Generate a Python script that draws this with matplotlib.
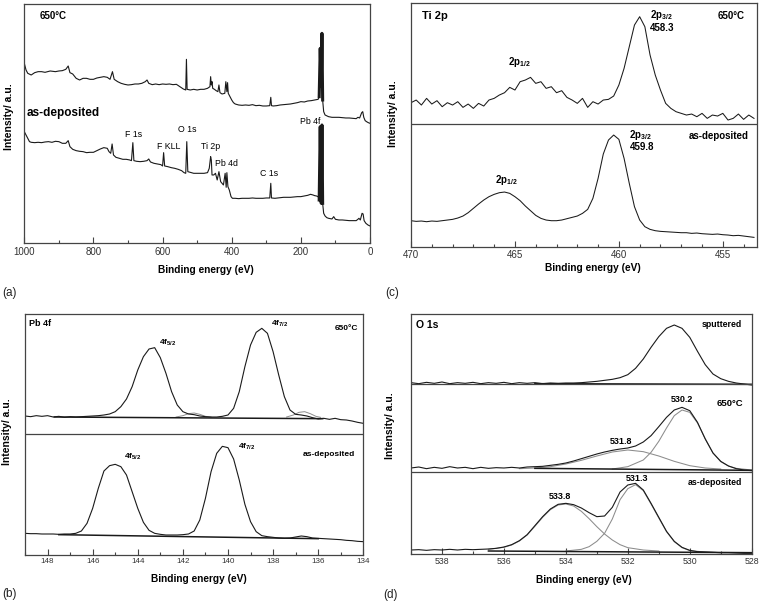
import matplotlib
matplotlib.use("Agg")
import matplotlib.pyplot as plt
from matplotlib.ticker import MultipleLocator

plt.rcParams['font.family'] = ['Liberation Sans', 'DejaVu Sans']
plt.rcParams['mathtext.fontset'] = 'custom'
plt.rcParams['mathtext.rm'] = 'Liberation Sans'
plt.rcParams['mathtext.bf'] = 'Liberation Sans:bold'
plt.rcParams['mathtext.it'] = 'Liberation Sans:italic'

# ---------------- (a) survey spectra ----------------
a_top_ev = [1000, 995, 990, 980, 970, 960, 950, 940, 925, 910,
            900, 890, 880, 873, 868, 860, 850, 840, 830, 820,
            810, 800, 790, 780, 770, 760, 752, 745, 740, 730,
            720, 710, 700, 690, 680, 670, 660, 650, 645, 640,
            630, 620, 610, 600, 590, 580, 570, 560, 550, 540,
            533, 531, 529, 520, 510, 500, 490, 480, 470, 463,
            461, 459, 457, 455, 450, 445, 440, 437, 434, 428,
            420, 417, 414, 412, 410, 405, 400, 395, 390, 380,
            370, 360, 350, 340, 330, 320, 310, 300, 290, 287,
            285, 280, 270, 260, 250, 240, 230, 220, 210, 200,
            190, 180, 170, 160, 150, 147, 144, 141, 139, 137,
            134, 130, 120, 110, 100, 90, 80, 70, 60, 50,
            40, 35, 30, 24, 21, 18, 14, 10, 5, 0]
a_top = [540, 520, 510, 505, 512, 515, 515, 513, 517, 515,
         517, 518, 522, 532, 512, 508, 495, 490, 495, 495,
         492, 492, 496, 498, 500, 498, 492, 515, 492, 485,
         480, 477, 475, 476, 478, 478, 480, 485, 490, 480,
         476, 478, 476, 478, 477, 478, 476, 477, 470, 463,
         460, 552, 462, 460, 462, 460, 462, 462, 465, 470,
         500, 475, 485, 465, 462, 458, 455, 475, 452, 448,
         450, 485, 455, 482, 450, 440, 430, 422, 418, 415,
         414, 415, 414, 416, 413, 414, 412, 412, 413, 438,
         413, 412, 413, 415, 416, 417, 418, 420, 422, 425,
         424, 427, 428, 430, 432, 440, 585, 470, 630, 430,
         395, 385, 380, 378, 378, 378, 377, 376, 376, 375,
         374, 378, 376, 392, 395, 378, 368, 365, 362, 360]

a_bot_ev = [1000, 995, 990, 985, 980, 970, 960, 950, 940, 930,
            920, 910, 900, 890, 880, 873, 868, 860, 850, 840,
            830, 820, 810, 800, 790, 780, 770, 760, 755, 750,
            746, 742, 735, 725, 715, 705, 695, 690, 686, 683,
            675, 665, 655, 645, 640, 635, 625, 615, 605, 600,
            597, 594, 585, 575, 565, 555, 545, 538, 533, 530,
            527, 520, 510, 500, 490, 480, 470, 465, 461, 459,
            457, 452, 447, 442, 437, 432, 428, 424, 419, 416,
            414, 411, 407, 402, 398, 390, 380, 370, 360, 350,
            340, 330, 320, 310, 300, 290, 287, 285, 275, 260,
            250, 240, 230, 220, 210, 200, 190, 180, 172, 165,
            160, 155, 150, 147, 144, 141, 139, 137, 134, 130,
            125, 120, 110, 105, 100, 90, 80, 70, 60, 50,
            40, 35, 32, 28, 23, 20, 17, 12, 6, 0]
a_bot = [335, 325, 315, 305, 303, 302, 303, 302, 304, 305,
         303, 306, 305, 300, 300, 308, 290, 282, 278, 276,
         275, 272, 273, 273, 278, 283, 287, 285, 275, 270,
         298, 265, 258, 255, 252, 252, 250, 248, 302, 248,
         246, 245, 246, 248, 253, 244, 240, 238, 236, 232,
         272, 232, 230, 227, 225, 222, 218, 212, 210, 305,
         215, 213, 210, 210, 210, 210, 212, 225, 260, 250,
         205, 205, 210, 190, 215, 185, 180, 175, 210, 168,
         212, 170, 160, 140, 135, 135, 134, 135, 135, 135,
         136, 135, 135, 135, 136, 136, 180, 136, 135, 137,
         138, 138, 138, 139, 140, 140, 142, 144, 147, 145,
         143, 142, 140, 130, 350, 120, 355, 120, 90, 82,
         77, 75, 73, 80, 72, 70, 70, 69, 68, 68,
         68, 72, 75, 70, 90, 88, 68, 60, 55, 52]

# ---------------- (c) Ti 2p ----------------
c_ev = [470.0, 469.75, 469.5, 469.25, 469.0, 468.75, 468.5, 468.25, 468.0, 467.75,
        467.5, 467.25, 467.0, 466.75, 466.5, 466.25, 466.0, 465.75, 465.5, 465.25,
        465.0, 464.75, 464.5, 464.25, 464.0, 463.75, 463.5, 463.25, 463.0, 462.75,
        462.5, 462.25, 462.0, 461.75, 461.5, 461.25, 461.0, 460.75, 460.5, 460.25,
        460.0, 459.75, 459.5, 459.25, 459.0, 458.75, 458.5, 458.25, 458.0, 457.75,
        457.5, 457.25, 457.0, 456.75, 456.5, 456.25, 456.0, 455.75, 455.5, 455.25,
        455.0, 454.75, 454.5, 454.25, 454.0, 453.75, 453.5]
c_top = [432, 440, 425, 445, 428, 438, 420, 432, 425, 435,
         418, 428, 415, 430, 422, 440, 445, 455, 462, 478,
         470, 495, 500, 508, 490, 495, 475, 480, 462, 468,
         448, 440, 430, 445, 418, 435, 428, 440, 442, 452,
         485, 535, 600, 665, 690, 660, 575, 515, 470, 430,
         415, 405, 400, 395, 398, 390, 400, 385, 395, 392,
         400, 380, 385, 398, 382, 395, 385]
c_bot = [78, 76, 77, 75, 77, 76, 78, 80, 82, 86,
         92, 102, 115, 128, 140, 150, 157, 162, 164, 160,
         150, 138, 122, 108, 94, 85, 80, 78, 78, 80,
         84, 88, 92, 100, 112, 145, 205, 278, 320, 335,
         322, 265, 190, 120, 80, 60, 52, 48, 46, 45,
         44, 43, 42, 42, 40, 41, 39, 38, 37, 38,
         36, 35, 33, 34, 32, 30, 28]

# ---------------- (b) Pb 4f ----------------
b_ev = [149.0, 148.75, 148.5, 148.25, 148.0, 147.75, 147.5, 147.25, 147.0, 146.75,
        146.5, 146.25, 146.0, 145.75, 145.5, 145.25, 145.0, 144.75, 144.5, 144.25,
        144.0, 143.75, 143.5, 143.25, 143.0, 142.75, 142.5, 142.25, 142.0, 141.75,
        141.5, 141.25, 141.0, 140.75, 140.5, 140.25, 140.0, 139.75, 139.5, 139.25,
        139.0, 138.75, 138.5, 138.25, 138.0, 137.75, 137.5, 137.25, 137.0, 136.75,
        136.5, 136.25, 136.0, 135.75, 135.5, 135.25, 135.0, 134.75, 134.5, 134.25,
        134.0]
b_top = [417, 415, 418, 416, 418, 414, 416, 413, 415, 414,
         415, 416, 417, 418, 420, 423, 430, 445, 468, 505,
         555, 595, 618, 622, 592, 545, 490, 450, 430, 423,
         421, 417, 415, 414, 414, 416, 420, 440, 490, 565,
         630, 668, 680, 665, 610, 540, 475, 435, 422, 420,
         417, 412, 408, 410, 407, 410, 406, 405, 402, 398,
         395]
b_bot = [65, 64, 64, 63, 63, 63, 62, 63, 63, 65,
         72, 95, 140, 200, 252, 268, 272, 265, 240, 190,
         140, 98, 74, 65, 62, 60, 60, 60, 61, 63,
         72, 105, 170, 250, 305, 326, 322, 288, 225, 152,
         100, 70, 58, 55, 53, 51, 50, 51, 54, 57,
         55, 51, 50, 49, 48, 47, 46, 44, 43, 41,
         40]
b_s1_ev = [142.3, 142.0, 141.75, 141.5, 141.25, 141.0, 140.75]
b_s1 = [414, 418, 424, 426, 422, 416, 414]
b_s2_ev = [137.4, 137.1, 136.85, 136.6, 136.35, 136.1, 135.9]
b_s2 = [414, 420, 428, 430, 424, 416, 413]
b_base_top_ev = [147.7, 135.8]
b_base_top = [414, 409]
b_base_bot_ev = [147.5, 136.0]
b_base_bot = [61, 49]

# ---------------- (d) O 1s ----------------
d_ev = [539.0, 538.75, 538.5, 538.25, 538.0, 537.75, 537.5, 537.25, 537.0, 536.75,
        536.5, 536.25, 536.0, 535.75, 535.5, 535.25, 535.0, 534.75, 534.5, 534.25,
        534.0, 533.75, 533.5, 533.25, 533.0, 532.75, 532.5, 532.25, 532.0, 531.75,
        531.5, 531.25, 531.0, 530.75, 530.5, 530.25, 530.0, 529.75, 529.5, 529.25,
        529.0, 528.75, 528.5, 528.25, 528.0]
d_sput = [514, 511, 515, 512, 516, 511, 514, 512, 515, 511,
          514, 512, 515, 511, 514, 512, 514, 511, 513, 512,
          513, 513, 514, 516, 518, 521, 524, 529, 538, 557,
          585, 620, 652, 677, 687, 677, 650, 608, 568, 540,
          526, 518, 513, 510, 507]
d_650 = [258, 261, 256, 260, 257, 262, 258, 260, 256, 260,
         257, 259, 258, 260, 258, 261, 262, 263, 266, 269,
         273, 279, 286, 293, 300, 306, 311, 315, 318, 324,
         336, 355, 382, 410, 432, 440, 430, 395, 345, 303,
         278, 264, 256, 252, 250]
d_asdep = [12, 13, 11, 13, 12, 14, 12, 14, 13, 14,
           15, 17, 21, 28, 40, 58, 85, 112, 135, 149,
           152, 148, 138, 124, 112, 114, 140, 186, 207, 212,
           192, 152, 110, 68, 38, 20, 11, 7, 6, 5,
           4, 4, 3, 2, 2]
d_c1_ev = [535.5, 535.0, 534.5, 534.0, 533.5, 533.0, 532.5, 532.0, 531.5, 531.0, 530.5, 530.0, 529.5, 529.0]
d_c1 = [256, 258, 262, 270, 281, 294, 306, 312, 307, 294, 278, 265, 258, 255]
d_c2_ev = [532.5, 532.0, 531.5, 531.25, 531.0, 530.75, 530.5, 530.25, 530.0, 529.75, 529.5, 529.25, 529.0, 528.75, 528.5, 528.0]
d_c2 = [255, 262, 282, 305, 338, 378, 415, 432, 425, 393, 346, 303, 277, 264, 257, 252]
d_c3_ev = [536.5, 536.0, 535.75, 535.5, 535.25, 535.0, 534.75, 534.5, 534.25, 534.0,
           533.75, 533.5, 533.25, 533.0, 532.75, 532.5, 532.25, 532.0, 531.5, 531.0]
d_c3 = [14, 20, 27, 39, 57, 83, 110, 133, 147, 150, 144, 128, 106, 82, 60, 42, 28, 19, 12, 9]
d_c4_ev = [534.0, 533.5, 533.25, 533.0, 532.75, 532.5, 532.25, 532.0, 531.75, 531.5,
           531.25, 531.0, 530.75, 530.5, 530.25, 530.0, 529.5, 529.0]
d_c4 = [9, 14, 22, 38, 62, 105, 163, 196, 208, 190, 150, 108, 67, 37, 19, 10, 6, 4]
d_base_ev = [535.0, 528.0]
d_base_sput = [511, 509]
d_base_650 = [257, 251]
d_base_asdep_ev = [536.5, 528.0]
d_base_asdep = [9, 4]

W, H = 763, 606
DARK = '#1a1a1a'
FIT = '#8c8c8c'
FRAME = '#444444'


def box(left, top, right, bottom):
    return [left / W, 1 - bottom / H, (right - left) / W, (bottom - top) / H]


def style(ax, xlim, ylim, major, minor, size):
    ax.set_xlim(*xlim)
    ax.set_ylim(*ylim)
    ax.xaxis.set_major_locator(MultipleLocator(major))
    ax.xaxis.set_minor_locator(MultipleLocator(minor))
    ax.set_yticks([])
    ax.tick_params(axis='x', which='both', direction='in', colors=FRAME,
                   labelcolor='#333333', labelsize=size, pad=2.5)
    ax.tick_params(axis='x', which='major', length=4, width=0.8)
    ax.tick_params(axis='x', which='minor', length=2, width=0.8)
    for s in ax.spines.values():
        s.set_color(FRAME)
        s.set_linewidth(0.9)


def axis_labels(ax, xl, yl):
    ax.text(xl[0], xl[1], 'Binding energy (eV)', transform=ax.transAxes,
            ha='center', va='center', weight='bold', fontsize=7.3)
    ax.text(yl[0], yl[1], 'Intensity/ a.u.', transform=ax.transAxes,
            ha='center', va='center', weight='bold', fontsize=7.5, rotation=90)


def pb4f_part(ev, vals):
    # the Pb 4f doublet in the survey is printed as a solid bar
    pairs = [(e, v) for e, v in zip(ev, vals) if 136 <= e <= 148]
    return [p[0] for p in pairs], [p[1] for p in pairs]


fig = plt.figure(figsize=(W / 100, H / 100), dpi=100)

# (a)
ax = fig.add_axes(box(24.3, 4, 370, 243.3))
ax.plot(a_top_ev, a_top, color=DARK, lw=0.8)
ax.plot(a_bot_ev, a_bot, color=DARK, lw=0.8)
ax.plot(*pb4f_part(a_top_ev, a_top), color=DARK, lw=2.2)
ax.plot(*pb4f_part(a_bot_ev, a_bot), color=DARK, lw=2.2)
style(ax, (1000, 0), (0, 718), 200, 100, 7)
axis_labels(ax, (0.526, -0.112), (-0.044, 0.528))
ax.text(957, 682, '650°C', weight='bold', fontsize=7, va='center')
ax.text(993, 392, 'as-deposited', weight='bold', fontsize=8.5, va='center')
for txt, x, y in [('F 1s', 685, 325), ('F KLL', 583, 290), ('O 1s', 528, 340),
                  ('Ti 2p', 460, 290), ('Pb 4d', 415, 240), ('C 1s', 291, 208),
                  ('Pb 4f', 174, 365)]:
    ax.text(x, y, txt, fontsize=6.3, ha='center', va='center')

# (c)
ax = fig.add_axes(box(411, 2.7, 756.7, 246.7))
ax.plot(c_ev, c_top, color=DARK, lw=0.75)
ax.plot(c_ev, c_bot, color=DARK, lw=0.75)
ax.axhline(367, color=FRAME, lw=0.9)
style(ax, (470, 453.37), (0, 732), 5, 1, 7)
axis_labels(ax, (0.527, -0.089), (-0.053, 0.544))
ax.text(469.49, 692, 'Ti 2p', weight='bold', fontsize=8, va='center')
ax.text(453.93, 692, '650°C', weight='bold', fontsize=7, va='center', ha='right')
ax.text(458.5, 695, r'2p$_{\mathbf{3/2}}$', weight='bold', fontsize=7, va='center')
ax.text(458.5, 655, '458.3', weight='bold', fontsize=7, va='center')
ax.text(464.79, 553, r'2p$_{\mathbf{1/2}}$', weight='bold', fontsize=7, va='center', ha='center')
ax.text(459.49, 335, r'2p$_{\mathbf{3/2}}$', weight='bold', fontsize=7, va='center')
ax.text(459.49, 300, '459.8', weight='bold', fontsize=7, va='center')
ax.text(453.77, 332, 'as-deposited', weight='bold', fontsize=7, va='center', ha='right')
ax.text(465.4, 200, r'2p$_{\mathbf{1/2}}$', weight='bold', fontsize=7, va='center', ha='center')

# (b)
ax = fig.add_axes(box(25, 314, 363.3, 555))
ax.plot(b_s1_ev, b_s1, color=FIT, lw=0.7)
ax.plot(b_s2_ev, b_s2, color=FIT, lw=0.7)
ax.plot(b_base_top_ev, b_base_top, color=DARK, lw=1.1)
ax.plot(b_base_bot_ev, b_base_bot, color=DARK, lw=1.1)
ax.plot(b_ev, b_top, color=DARK, lw=0.8)
ax.plot(b_ev, b_bot, color=DARK, lw=0.8)
ax.axhline(363, color=FRAME, lw=0.9)
style(ax, (149, 134), (0, 723), 2, 1, 5.8)
axis_labels(ax, (0.514, -0.10), (-0.052, 0.512))
ax.text(148.81, 695, 'Pb 4f', weight='bold', fontsize=6.5, va='center')
ax.text(134.22, 678, '650°C', weight='bold', fontsize=6, va='center', ha='right')
ax.text(142.69, 635, r'4f$_{\mathbf{5/2}}$', weight='bold', fontsize=6, va='center', ha='center')
ax.text(137.71, 693, r'4f$_{\mathbf{7/2}}$', weight='bold', fontsize=6, va='center', ha='center')
ax.text(144.24, 295, r'4f$_{\mathbf{5/2}}$', weight='bold', fontsize=6, va='center', ha='center')
ax.text(139.16, 325, r'4f$_{\mathbf{7/2}}$', weight='bold', fontsize=6, va='center', ha='center')
ax.text(134.37, 300, 'as-deposited', weight='bold', fontsize=6, va='center', ha='right')

# (d)
ax = fig.add_axes(box(411, 314, 751.7, 554))
for ev, comp in [(d_c1_ev, d_c1), (d_c2_ev, d_c2), (d_c3_ev, d_c3), (d_c4_ev, d_c4)]:
    ax.plot(ev, comp, color=FIT, lw=0.75)
ax.plot(d_base_ev, d_base_sput, color=DARK, lw=1.1)
ax.plot(d_base_ev, d_base_650, color=DARK, lw=1.1)
ax.plot(d_base_asdep_ev, d_base_asdep, color=DARK, lw=1.1)
ax.plot(d_ev, d_sput, color=DARK, lw=0.8)
ax.plot(d_ev, d_650, color=DARK, lw=0.8)
ax.plot(d_ev, d_asdep, color=DARK, lw=0.8)
ax.axhline(509, color=FRAME, lw=0.9)
ax.axhline(247, color=FRAME, lw=0.9)
style(ax, (539, 528), (0, 720), 2, 1, 6.3)
axis_labels(ax, (0.508, -0.108), (-0.062, 0.535))
ax.text(538.83, 687, 'O 1s', weight='bold', fontsize=7.5, va='center')
ax.text(528.32, 687, 'sputtered', weight='bold', fontsize=6.3, va='center', ha='right')
ax.text(530.26, 462, '530.2', weight='bold', fontsize=6.5, va='center', ha='center')
ax.text(528.27, 452, '650°C', weight='bold', fontsize=6.8, va='center', ha='right')
ax.text(532.23, 338, '531.8', weight='bold', fontsize=6.5, va='center', ha='center')
ax.text(531.70, 227, '531.3', weight='bold', fontsize=6.5, va='center', ha='center')
ax.text(534.20, 172, '533.8', weight='bold', fontsize=6.5, va='center', ha='center')
ax.text(528.32, 215, 'as-deposited', weight='bold', fontsize=6.3, va='center', ha='right')

for txt, x, y in [('(a)', 2, 293), ('(c)', 385, 293), ('(b)', 2, 594), ('(d)', 383, 595)]:
    fig.text(x / W, 1 - y / H, txt, fontsize=8.5, va='center', color='#222222')

fig.savefig('out.png', dpi=100)
